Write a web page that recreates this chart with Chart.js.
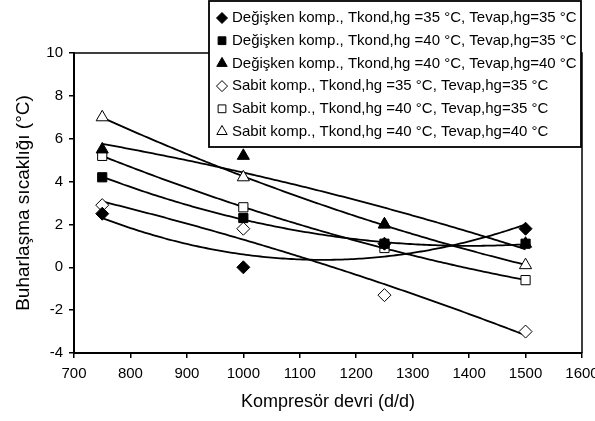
<!DOCTYPE html>
<html lang="tr">
<head>
    <meta charset="UTF-8">
    <title>Buharlaşma sıcaklığı - Kompresör devri</title>
    <script src="https://cdn.jsdelivr.net/npm/chart.js"></script>
    <style>
        body {
            margin: 0;
            padding: 0;
            background-color: #fff;
        }
    </style>
</head>
<body>
    <canvas id="chart" width="595" height="421"></canvas>

    <script>
        // Data
        const speeds = [750, 1000, 1250, 1500];
        const degKond35Evap35 = [2.5, 0.0, 1.1, 1.8];
        const degKond40Evap35 = [4.2, 2.3, 1.1, 1.1];
        const degKond40Evap40 = [5.5, 5.2, 2.0, 1.1];
        const sabKond35Evap35 = [2.9, 1.8, -1.3, -3.0];
        const sabKond40Evap35 = [5.2, 2.8, 0.9, -0.6];
        const sabKond40Evap40 = [7.0, 4.2, 2.0, 0.1];

        const seriesLabels = [
            "Değişken komp., Tkond,hg =35 °C, Tevap,hg=35 °C",
            "Değişken komp., Tkond,hg =40 °C, Tevap,hg=35 °C",
            "Değişken komp., Tkond,hg =40 °C, Tevap,hg=40 °C",
            "Sabit komp., Tkond,hg =35 °C, Tevap,hg=35 °C",
            "Sabit komp., Tkond,hg =40 °C, Tevap,hg=35 °C",
            "Sabit komp., Tkond,hg =40 °C, Tevap,hg=40 °C"
        ];
        const xTicks = [700, 800, 900, 1000, 1100, 1200, 1300, 1400, 1500, 1600];
        const yTicks = [-4, -2, 0, 2, 4, 6, 8, 10];

        const seriesValues = [degKond35Evap35, degKond40Evap35, degKond40Evap40,
                              sabKond35Evap35, sabKond40Evap35, sabKond40Evap40];
        const markerStyles = ["rectRot", "rect", "triangle", "rectRot", "rect", "triangle"];
        const markerFilled = [true, true, true, false, false, false];
        const markerRadius = [6.5, 6.5, 7, 6.5, 6.5, 7];

        const FONT = "'Liberation Sans', Arial, sans-serif";

        // second order polynomial trend line (least squares)
        function polyFit(xs, ys) {
            let n = xs.length, sx = 0, sx2 = 0, sx3 = 0, sx4 = 0, sy = 0, sxy = 0, sx2y = 0;
            for (let i = 0; i < n; i++) {
                const x = xs[i], y = ys[i];
                sx += x; sx2 += x * x; sx3 += x * x * x; sx4 += x * x * x * x;
                sy += y; sxy += x * y; sx2y += x * x * y;
            }
            const m = [[n, sx, sx2, sy], [sx, sx2, sx3, sxy], [sx2, sx3, sx4, sx2y]];
            for (let c = 0; c < 3; c++) {
                for (let r = c + 1; r < 3; r++) {
                    const f = m[r][c] / m[c][c];
                    for (let k = c; k < 4; k++) m[r][k] -= f * m[c][k];
                }
            }
            const coef = [0, 0, 0];
            for (let r = 2; r >= 0; r--) {
                let s = m[r][3];
                for (let k = r + 1; k < 3; k++) s -= m[r][k] * coef[k];
                coef[r] = s / m[r][r];
            }
            return coef;
        }

        function trendPoints(xs, ys) {
            const c = polyFit(xs, ys);
            const pts = [];
            for (let x = xs[0]; x <= xs[xs.length - 1]; x += 5) {
                pts.push({ x: x, y: c[0] + c[1] * x + c[2] * x * x });
            }
            return pts;
        }

        const datasets = [];
        seriesValues.forEach((vals, i) => {
            datasets.push({
                label: seriesLabels[i],
                data: speeds.map((s, j) => ({ x: s, y: vals[j] })),
                pointStyle: markerStyles[i],
                pointRadius: markerRadius[i],
                backgroundColor: markerFilled[i] ? "#000" : "#fff",
                borderColor: "#000",
                pointBorderWidth: 1,
                showLine: false,
                order: i
            });
        });
        seriesValues.forEach((vals, i) => {
            datasets.push({
                label: "trend" + i,
                data: trendPoints(speeds, vals),
                showLine: true,
                pointRadius: 0,
                borderColor: "#000",
                borderWidth: 1.8,
                fill: false,
                order: 10 + i
            });
        });

        // plot frame and legend box
        const framePlugin = {
            id: "frame",
            afterDraw(chart) {
                const ctx = chart.ctx;
                const a = chart.chartArea;
                ctx.save();
                ctx.strokeStyle = "#000";
                ctx.lineWidth = 1.5;
                ctx.beginPath();
                ctx.moveTo(a.left, a.top);
                ctx.lineTo(a.right, a.top);
                ctx.lineTo(a.right, a.bottom);
                ctx.stroke();

                // legend
                const lx = 209, ly = 1, lw = 372, lh = 146;
                ctx.fillStyle = "#fff";
                ctx.fillRect(lx, ly, lw, lh);
                ctx.lineWidth = 1.8;
                ctx.strokeRect(lx, ly, lw, lh);
                ctx.font = "15px " + FONT;
                ctx.textBaseline = "middle";
                seriesLabels.forEach((lab, i) => {
                    const y = ly + 17 + i * 22.7;
                    ctx.fillStyle = markerFilled[i] ? "#000" : "#fff";
                    ctx.strokeStyle = "#000";
                    ctx.lineWidth = 1;
                    Chart.helpers.drawPoint(ctx, {
                        pointStyle: markerStyles[i],
                        radius: markerStyles[i] === "triangle" ? 6 : 5.5,
                        borderWidth: 1
                    }, lx + 13, y);
                    ctx.fillStyle = "#000";
                    ctx.fillText(lab, lx + 23, y);
                });
                ctx.restore();
            }
        };

        new Chart(document.getElementById("chart"), {
            type: "scatter",
            data: { datasets: datasets },
            plugins: [framePlugin],
            options: {
                responsive: false,
                animation: false,
                devicePixelRatio: 1,
                layout: { padding: { top: 53, right: 13, left: 0, bottom: 0 } },
                plugins: {
                    legend: { display: false },
                    tooltip: { enabled: false }
                },
                scales: {
                    x: {
                        type: "linear",
                        min: 700,
                        max: 1600,
                        afterBuildTicks: (s) => { s.ticks = xTicks.map(v => ({ value: v })); },
                        afterFit: (s) => { s.height = 68; s.paddingLeft = 0; s.paddingRight = 0; },
                        border: { display: true, color: "#000", width: 2 },
                        grid: { display: true, drawOnChartArea: false, drawTicks: true, tickLength: 5, color: "#000", lineWidth: 1.5 },
                        ticks: {
                            color: "#000",
                            font: { family: FONT, size: 15 },
                            padding: 7,
                            maxRotation: 0,
                            callback: (v) => String(v)
                        },
                        title: {
                            display: true,
                            text: "Kompresör devri (d/d)",
                            color: "#000",
                            font: { family: FONT, size: 18 },
                            padding: { top: 0, bottom: 8 }
                        }
                    },
                    y: {
                        type: "linear",
                        min: -4,
                        max: 10,
                        afterBuildTicks: (s) => { s.ticks = yTicks.map(v => ({ value: v })); },
                        afterFit: (s) => { s.width = 74; s.paddingTop = 0; s.paddingBottom = 0; },
                        border: { display: true, color: "#000", width: 2 },
                        grid: { display: true, drawOnChartArea: false, drawTicks: true, tickLength: 5, color: "#000", lineWidth: 1.5 },
                        ticks: {
                            color: "#000",
                            font: { family: FONT, size: 15 },
                            padding: 6,
                            callback: (v) => String(v)
                        },
                        title: {
                            display: true,
                            text: "Buharlaşma sıcaklığı (°C)",
                            color: "#000",
                            font: { family: FONT, size: 19 },
                            padding: { top: 12, bottom: 0 }
                        }
                    }
                }
            }
        });
    </script>
</body>
</html>
